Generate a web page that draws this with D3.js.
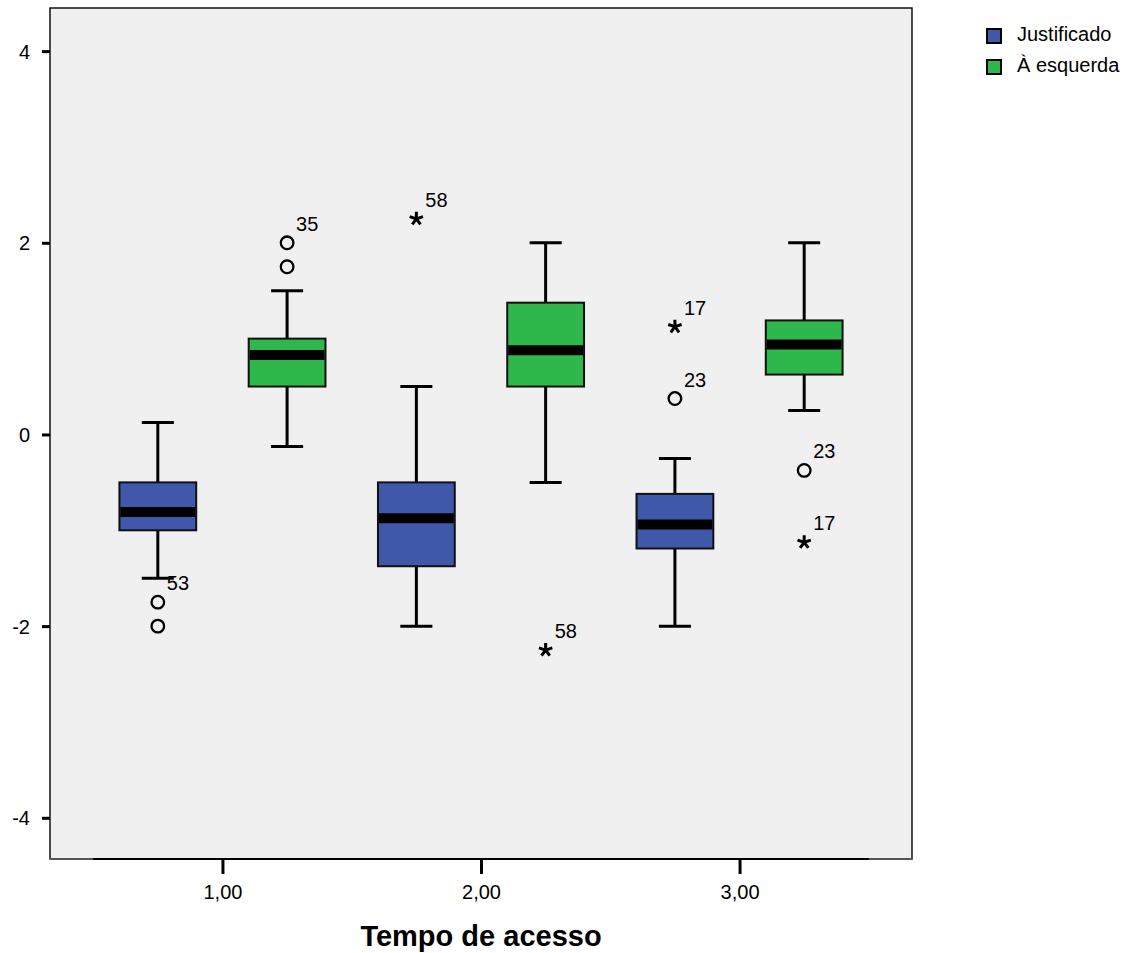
<!DOCTYPE html>
<html><head><meta charset="utf-8">
<script src="https://cdn.jsdelivr.net/npm/d3@7"></script>
<style>body{margin:0;background:#fff;font-family:Arial,"Liberation Sans",sans-serif;}</style>
</head><body>
<svg id="c" width="1133" height="953"></svg>
<script>
const categories = [1, 2, 3];
const tickLabels = ["1,00", "2,00", "3,00"];
const yTicks = [-4, -2, 0, 2, 4];
const seriesNames = ["Justificado", "À esquerda"];
const seriesColors = ["#3f58aa", "#2eb84b"];
// [whiskerLow, q1, median, q3, whiskerHigh]
const justificado = [[-1.5, -1.0, -0.81, -0.5, 0.125], [-2.0, -1.375, -0.875, -0.5, 0.5], [-2.0, -1.19, -0.94, -0.62, -0.25]];
const esquerda = [[-0.125, 0.5, 0.83, 1.0, 1.5], [-0.5, 0.5, 0.88, 1.375, 2.0], [0.25, 0.625, 0.94, 1.19, 2.0]];
const outCat = [1, 1, 1, 1, 2, 2, 3, 3, 3, 3];
const outSeries = [0, 0, 1, 1, 0, 1, 0, 0, 1, 1];
const outValue = [-1.75, -2.0, 2.0, 1.75, 2.25, -2.25, 1.125, 0.375, -0.375, -1.125];
const outType = ["o", "o", "o", "o", "*", "*", "*", "o", "o", "*"];
const outLabel = ["53", "", "35", "", "58", "58", "17", "23", "23", "17"];

const FONT = "Arial, 'Liberation Sans', sans-serif";
const svg = d3.select("#c");
const L = 50, R = 912, T = 8, B = 859;
const x = d3.scaleLinear().domain([0.333, 3.667]).range([L, R]);
const y = d3.scaleLinear().domain([-4.43, 4.45]).range([B, T]);
const off = [-0.25, 0.25];
const boxW = 0.297, capW = 0.124;

svg.append("rect").attr("x", L).attr("y", T).attr("width", R - L).attr("height", B - T)
  .attr("fill", "#f0f0f0").attr("stroke", "#111").attr("stroke-width", 1.5);
svg.append("line").attr("x1", L).attr("x2", x(0.5)).attr("y1", B).attr("y2", B).attr("stroke", "#555").attr("stroke-width", 2);
svg.append("line").attr("x1", x(3.5)).attr("x2", R).attr("y1", B).attr("y2", B).attr("stroke", "#555").attr("stroke-width", 2);

// x axis
const xAxis = d3.axisBottom(x).tickValues(categories).tickSize(15).tickFormat((d, i) => tickLabels[i]);
const gx = svg.append("g").attr("transform", `translate(0,${B})`).call(xAxis);
gx.attr("font-size", null).attr("font-family", null);
gx.select(".domain").remove();
gx.append("line").attr("x1", x(0.5)).attr("x2", x(3.5)).attr("stroke", "#000").attr("stroke-width", 2);
gx.selectAll(".tick line").attr("stroke", "#000").attr("stroke-width", 3);
gx.selectAll(".tick text").style("font-size", "20px").style("font-family", FONT).attr("fill", "#000").attr("y", 26).attr("dy", "0.71em");

// y axis
const yAxis = d3.axisLeft(y).tickValues(yTicks).tickSize(8).tickFormat(d => String(d));
const gy = svg.append("g").attr("transform", `translate(${L},0)`).call(yAxis);
gy.attr("font-size", null).attr("font-family", null);
gy.select(".domain").remove();
gy.selectAll(".tick line").attr("stroke", "#000").attr("stroke-width", 3);
gy.selectAll(".tick text").style("font-size", "20px").style("font-family", FONT).attr("fill", "#000").attr("x", -20).attr("dy", "0.35em");

svg.append("text").attr("x", x(2)).attr("y", 946).attr("text-anchor", "middle")
  .style("font-family", FONT).attr("font-size", 29).attr("font-weight", "bold").text("Tempo de acesso");

// boxes
[justificado, esquerda].forEach((data, s) => {
  const g = svg.append("g");
  data.forEach((st, i) => {
    const c = categories[i] + off[s];
    const cx = x(c);
    const [lo, q1, med, q3, hi] = st;
    g.append("line").attr("x1", cx).attr("x2", cx).attr("y1", y(hi)).attr("y2", y(q3)).attr("stroke", "#000").attr("stroke-width", 3);
    g.append("line").attr("x1", cx).attr("x2", cx).attr("y1", y(q1)).attr("y2", y(lo)).attr("stroke", "#000").attr("stroke-width", 3);
    g.append("line").attr("x1", x(c - capW / 2)).attr("x2", x(c + capW / 2)).attr("y1", y(hi)).attr("y2", y(hi)).attr("stroke", "#000").attr("stroke-width", 3);
    g.append("line").attr("x1", x(c - capW / 2)).attr("x2", x(c + capW / 2)).attr("y1", y(lo)).attr("y2", y(lo)).attr("stroke", "#000").attr("stroke-width", 3);
    g.append("rect").attr("x", x(c - boxW / 2)).attr("width", x(c + boxW / 2) - x(c - boxW / 2))
      .attr("y", y(q3)).attr("height", y(q1) - y(q3))
      .attr("fill", seriesColors[s]).attr("stroke", "#111").attr("stroke-width", 2);
    g.append("line").attr("x1", x(c - boxW / 2) + 1).attr("x2", x(c + boxW / 2) - 1).attr("y1", y(med)).attr("y2", y(med)).attr("stroke", "#000").attr("stroke-width", 10);
  });
});

// outliers
const starPath = (() => {
  let p = "";
  for (let k = 0; k < 5; k++) {
    const a = -Math.PI / 2 + k * 2 * Math.PI / 5;
    p += `M0,0L${(7 * Math.cos(a)).toFixed(2)},${(7 * Math.sin(a)).toFixed(2)}`;
  }
  return p;
})();
outValue.forEach((v, i) => {
  const cx = x(outCat[i] + off[outSeries[i]]);
  const cy = y(v);
  if (outType[i] === "o") {
    svg.append("circle").attr("cx", cx).attr("cy", cy).attr("r", 6.3).attr("fill", "none").attr("stroke", "#000").attr("stroke-width", 2.3);
  } else {
    svg.append("path").attr("d", starPath).attr("transform", `translate(${cx},${cy})`).attr("stroke", "#000").attr("stroke-width", 3).attr("fill", "none");
  }
  if (outLabel[i]) {
    svg.append("text").attr("x", cx + 9).attr("y", cy - 12).style("font-family", FONT).attr("font-size", 20).text(outLabel[i]);
  }
});

// legend
const lg = svg.append("g");
seriesNames.forEach((n, i) => {
  const yy = 29 + i * 31;
  lg.append("rect").attr("x", 987).attr("y", yy).attr("width", 14).attr("height", 14).attr("fill", seriesColors[i]).attr("stroke", "#000").attr("stroke-width", 2);
  lg.append("text").attr("x", 1017).attr("y", yy + 12).style("font-family", FONT).attr("font-size", 20).text(n);
});
</script>
</body></html>
